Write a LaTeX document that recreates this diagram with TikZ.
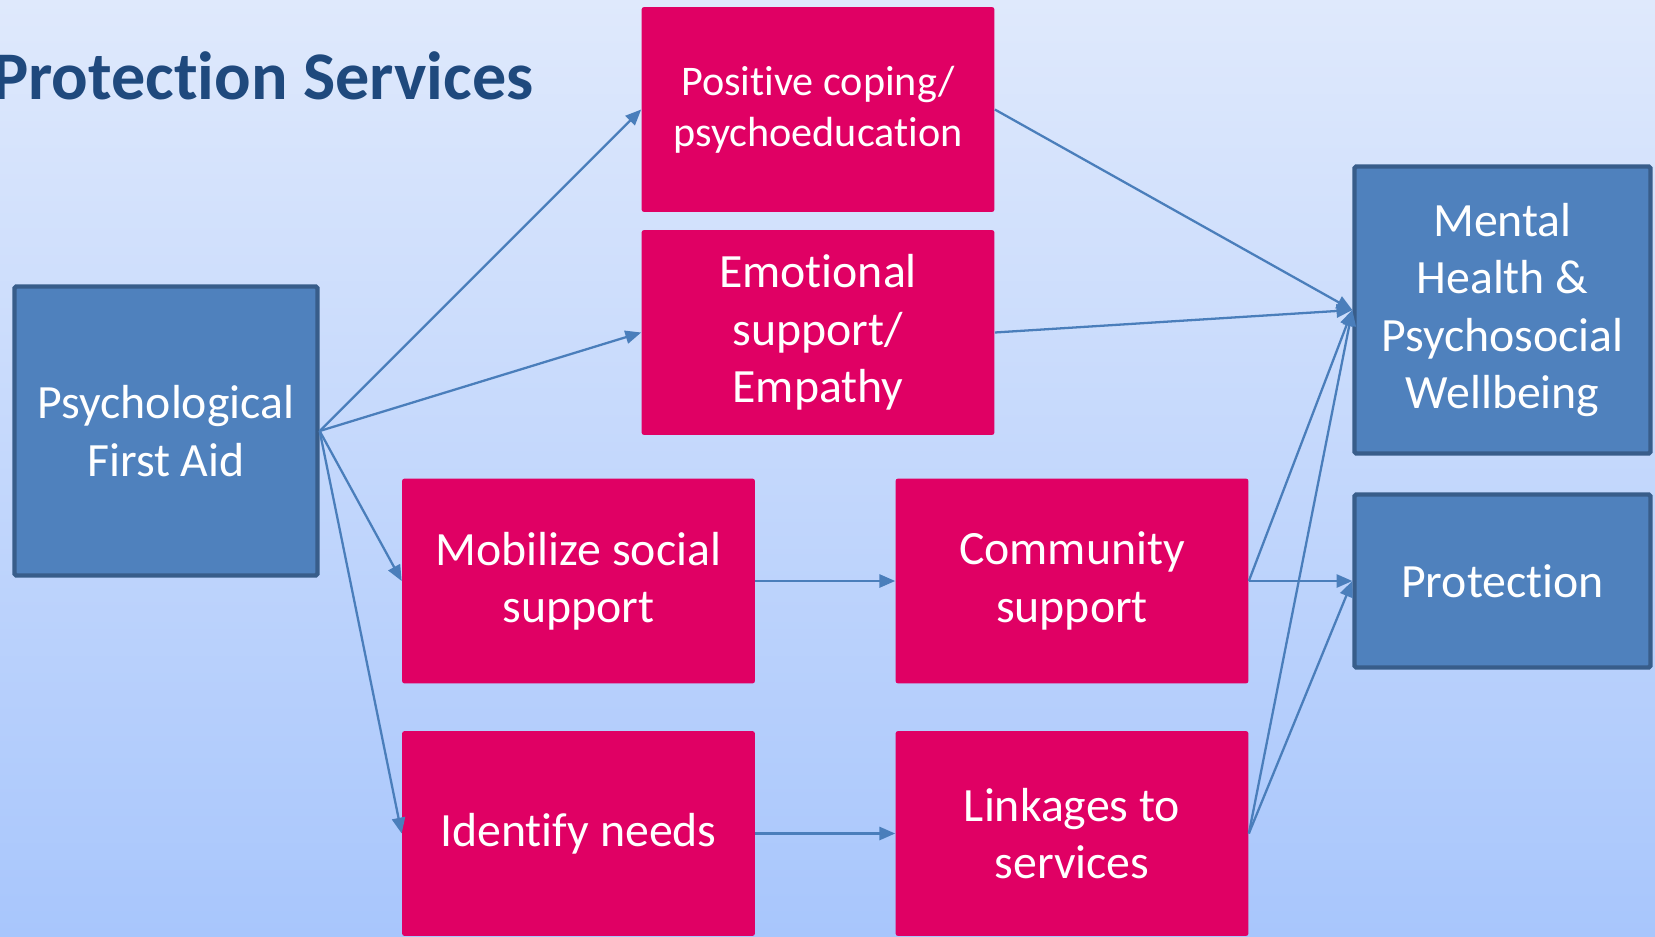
\documentclass[tikz,border=0pt]{standalone}
\usepackage{fontspec}
\setmainfont{Carlito}[Ligatures=NoCommon]
\usetikzlibrary{arrows.meta}

\definecolor{slidetop}{RGB}{223,233,252}
\definecolor{slidebottom}{RGB}{168,198,252}
\definecolor{titleblue}{RGB}{31,73,125}
\definecolor{boxblue}{RGB}{79,129,189}
\definecolor{edgeblue}{RGB}{56,93,138}
\definecolor{boxpink}{RGB}{224,0,100}
\definecolor{linkblue}{RGB}{74,126,187}

\begin{document}
\begin{tikzpicture}[x=0.02cm, y=-0.02cm,
    outcome/.style={draw=edgeblue, line width=2.5pt, fill=boxblue, rounded corners=1pt, text=white, align=center, inner sep=0pt, font=\fontsize{27.2}{32.6}\selectfont},
    action/.style={fill=boxpink, rounded corners=1.5pt, text=white, align=center, inner sep=0pt, minimum width=7.06cm, minimum height=4.1cm, font=\fontsize{27.2}{32.6}\selectfont},
    link/.style={draw=linkblue, line width=1.3pt, -{Triangle[length=9pt, width=7.5pt]}}]

        % Background
        \shade[top color=slidetop, bottom color=slidebottom] (0,0) rectangle (1655,936);
        \useasboundingbox (0,0) rectangle (1655,936);

        % Title
        \node[anchor=base east, inner sep=0pt, text=titleblue, font=\fontsize{38.8}{46}\selectfont\bfseries] (title) at (534,99) {Protection Services};

        % Boxes
        \node[outcome, minimum width=6.06cm, minimum height=5.78cm] (pfa) at (166,431) {Psychological\\First Aid};
        \node[action, font=\fontsize{24}{29.2}\selectfont] (cope) at (818,109.5) {Positive coping/\\psychoeducation};
        \node[action] (emo) at (818,332.5) {Emotional\\support/\\Empathy};
        \node[action] (mob) at (578.5,581) {Mobilize social\\support};
        \node[action] (comm) at (1072,581) {Community\\support};
        \node[action] (needs) at (578.5,833.5) {Identify needs};
        \node[action] (links) at (1072,833.5) {Linkages to\\services};
        \node[outcome, minimum width=5.92cm, minimum height=5.74cm] (mhpss) at (1502.5,310) {Mental\\Health \&\\Psychosocial\\Wellbeing};
        \node[outcome, minimum width=5.92cm, minimum height=3.46cm] (prot) at (1502.5,581) {Protection};

        % Arrows out of first aid
        \draw[link] (pfa.east) -- (cope.west);
        \draw[link] (pfa.east) -- (emo.west);
        \draw[link] (pfa.east) -- (mob.west);
        \draw[link] (pfa.east) -- (needs.west);

        % Middle arrows
        \draw[link] (mob.east) -- (comm.west);
        \draw[link] (needs.east) -- (links.west);

        % Arrows into the outcomes
        \draw[link] (cope.east) -- (mhpss.west);
        \draw[link] (emo.east) -- (mhpss.west);
        \draw[link] (comm.east) -- (mhpss.west);
        \draw[link] (links.east) -- (mhpss.west);
        \draw[link] (comm.east) -- (prot.west);
        \draw[link] (links.east) -- (prot.west);

\end{tikzpicture}
\end{document}
